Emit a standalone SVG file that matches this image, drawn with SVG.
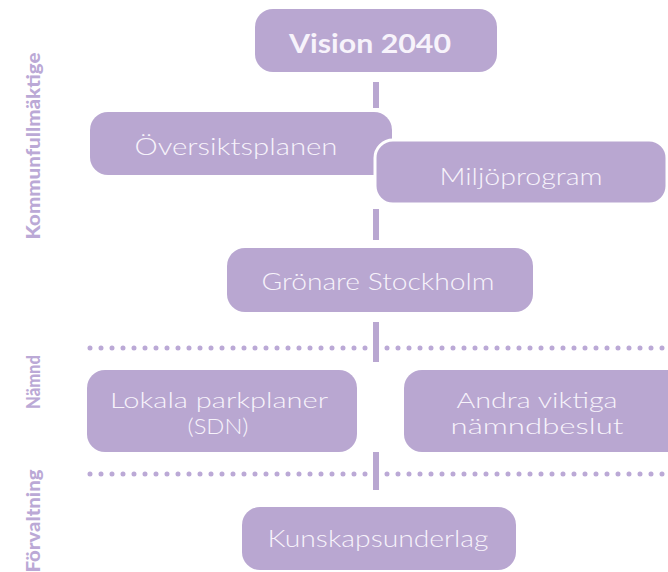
<svg xmlns="http://www.w3.org/2000/svg" width="668" height="572" viewBox="0 0 668 572">
<style>
.box{fill:#b9a7d1;}
.t{fill:#f7f3fb;font-family:Lato,"Open Sans",sans-serif;font-weight:300;font-size:24px;text-anchor:middle;}
.t2{font-size:21px;}
.side{fill:#bba9d6;font-family:Lato,"Liberation Sans",sans-serif;font-weight:900;font-size:18px;text-anchor:middle;}
.bar{fill:#b9a7d1;}
.dots{stroke:#bba9d6;stroke-width:5;stroke-linecap:round;stroke-dasharray:0 11;fill:none;}
</style>
<rect width="668" height="572" fill="#ffffff"/>
<g id="labels">
<text class="side" transform="translate(40,146) rotate(-90)" textLength="187" lengthAdjust="spacingAndGlyphs">Kommunfullmäktige</text>
<text class="side" transform="translate(40,382) rotate(-90)" textLength="54" lengthAdjust="spacingAndGlyphs">Nämnd</text>
<text class="side" transform="translate(40,521) rotate(-90)" textLength="103" lengthAdjust="spacingAndGlyphs">Förvaltning</text>
</g>
<g id="connectors">
<line class="dots" x1="90" y1="348" x2="668" y2="348"/>
<line class="dots" x1="90" y1="474" x2="668" y2="474"/>
<rect class="bar" x="373" y="82" width="6" height="26"/>
<rect class="bar" x="373" y="209" width="6" height="31"/>
<rect class="bar" x="373" y="322" width="6" height="40"/>
<rect class="bar" x="373" y="452" width="6" height="38"/>
</g>
<g id="vision">
<rect class="box" x="255" y="9" width="242" height="63" rx="18"/>
<text class="t" x="370" y="53" style="font-weight:700;font-size:26px" textLength="162" lengthAdjust="spacingAndGlyphs">Vision 2040</text>
</g>
<g id="oversiktsplanen">
<rect class="box" x="90" y="112" width="302" height="63" rx="18"/>
<text class="t" x="236" y="155" textLength="203" lengthAdjust="spacingAndGlyphs">Översiktsplanen</text>
</g>
<g id="miljoprogram">
<rect class="box" x="375" y="140" width="292" height="64" rx="18" stroke="#ffffff" stroke-width="3"/>
<text class="t" x="521" y="185" textLength="163" lengthAdjust="spacingAndGlyphs">Miljöprogram</text>
</g>
<g id="gronare">
<rect class="box" x="227" y="248" width="306" height="64" rx="18"/>
<text class="t" x="378" y="290" textLength="233" lengthAdjust="spacingAndGlyphs">Grönare Stockholm</text>
</g>
<g id="lokala">
<rect class="box" x="87" y="370" width="270" height="82" rx="18"/>
<text class="t t2" x="219" y="408" textLength="218" lengthAdjust="spacingAndGlyphs">Lokala parkplaner</text>
<text class="t t2" x="218" y="434" textLength="61" lengthAdjust="spacingAndGlyphs">(SDN)</text>
</g>
<g id="andra">
<rect class="box" x="404" y="370" width="280" height="82" rx="18"/>
<text class="t t2" x="537" y="408" textLength="161" lengthAdjust="spacingAndGlyphs">Andra viktiga</text>
<text class="t t2" x="537" y="434" textLength="173" lengthAdjust="spacingAndGlyphs">nämndbeslut</text>
</g>
<g id="kunskap">
<rect class="box" x="242" y="507" width="274" height="63" rx="18"/>
<text class="t" x="378" y="547" textLength="221" lengthAdjust="spacingAndGlyphs">Kunskapsunderlag</text>
</g>
</svg>
